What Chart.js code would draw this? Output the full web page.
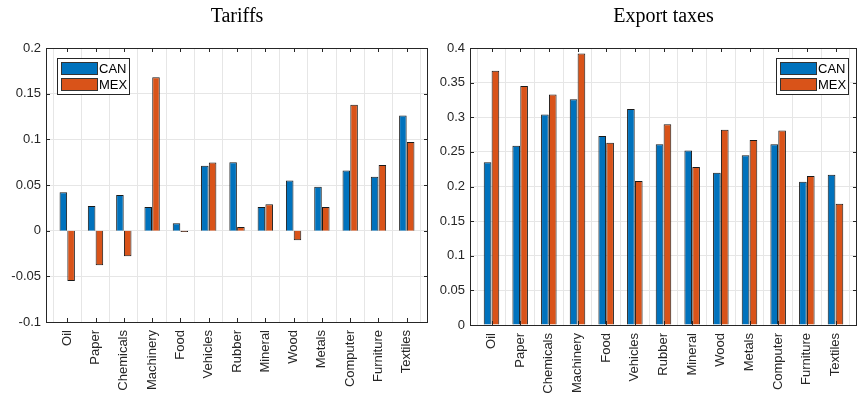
<!DOCTYPE html>
<html>
<head>
<meta charset="utf-8">
<script src="https://cdn.jsdelivr.net/npm/chart.js@4.4.0/dist/chart.umd.min.js"></script>
<style>
  body { margin: 0; background: #fff; }
  .wrap { position: absolute; top: 0; width: 429px; height: 398px; }
  #left { left: 0; }
  #right { left: 429px; }
</style>
</head>
<body>
<div class="wrap" id="left"><canvas id="tariffs" width="429" height="398"></canvas></div>
<div class="wrap" id="right"><canvas id="exports" width="429" height="398"></canvas></div>
<script>
const sectors = ['Oil', 'Paper', 'Chemicals', 'Machinery', 'Food', 'Vehicles', 'Rubber',
    'Mineral', 'Wood', 'Metals', 'Computer', 'Furniture', 'Textiles'];

const tariffsCAN = [0.042, 0.027, 0.039, 0.026, 0.008, 0.071, 0.075, 0.026, 0.055, 0.048, 0.066, 0.059, 0.126];
const tariffsMEX = [-0.055, -0.038, -0.028, 0.168, -0.0015, 0.0745, 0.004, 0.029, -0.0105, 0.026, 0.138, 0.072, 0.097];

const exportCAN = [0.235, 0.259, 0.304, 0.326, 0.273, 0.312, 0.261, 0.252, 0.220, 0.245, 0.261, 0.207, 0.217];
const exportMEX = [0.367, 0.345, 0.333, 0.392, 0.263, 0.208, 0.290, 0.228, 0.282, 0.267, 0.281, 0.215, 0.175];

const colors = { can: '#0072BD', mex: '#D95319', axis: '#262626', grid: '#e6e6e6' };
const tickFont = { family: '"Liberation Sans", Arial, sans-serif', size: 13 };

// box, inner ticks, title and legend drawn in matlab style
const matlabLook = {
    id: 'matlabLook',
    afterDraw(chart, args, opts) {
        const { ctx, chartArea: a } = chart;
        ctx.save();
        ctx.strokeStyle = colors.axis;
        ctx.lineWidth = 1;
        ctx.strokeRect(a.left + 0.5, a.top + 0.5, a.right - a.left - 1, a.bottom - a.top);

        // tick marks inside the box
        const ys = chart.scales.y, xs = chart.scales.x;
        ctx.beginPath();
        ys.ticks.forEach(t => {
            const y = Math.round(ys.getPixelForValue(t.value)) + 0.5;
            ctx.moveTo(a.left, y); ctx.lineTo(a.left + 4, y);
            ctx.moveTo(a.right, y); ctx.lineTo(a.right - 4, y);
        });
        xs.ticks.forEach(t => {
            const x = Math.round(xs.getPixelForValue(t.value)) + 0.5;
            ctx.moveTo(x, a.bottom); ctx.lineTo(x, a.bottom - 4);
            ctx.moveTo(x, a.top); ctx.lineTo(x, a.top + 4);
        });
        ctx.stroke();

        // title
        ctx.fillStyle = '#000';
        ctx.font = '20px "Liberation Serif", "DejaVu Serif", serif';
        ctx.textAlign = 'center';
        ctx.textBaseline = 'alphabetic';
        ctx.fillText(opts.title, (a.left + a.right) / 2, 22);

        // legend box
        const lx = opts.legendLeft ? a.left + 11 : a.right - 81;
        const ly = a.top + 10;
        const w = 72, h = 36;
        ctx.fillStyle = '#fff';
        ctx.fillRect(lx, ly, w, h);
        ctx.strokeStyle = colors.axis;
        ctx.strokeRect(lx + 0.5, ly + 0.5, w, h);
        const items = [['CAN', colors.can], ['MEX', colors.mex]];
        ctx.font = '13px "Liberation Sans", Arial, sans-serif';
        ctx.textAlign = 'left';
        ctx.textBaseline = 'middle';
        items.forEach((it, i) => {
            const y = ly + 4 + i * 16;
            ctx.fillStyle = it[1];
            ctx.fillRect(lx + 4, y, 36, 12);
            ctx.strokeStyle = '#333';
            ctx.strokeRect(lx + 4.5, y + 0.5, 36, 12);
            ctx.fillStyle = '#000';
            ctx.fillText(it[0], lx + 42, y + 7);
        });
        ctx.restore();
    }
};

function tickLabel(v) {
    return String(Math.round(v * 100) / 100);
}

// sectors sit at x = 1..13, axis runs 0.25..13.75 like matlab's bar limits
function toPoints(values) {
    return values.map((v, i) => ({ x: i + 1, y: v }));
}

function makeChart(canvasId, can, mex, yMin, yMax, yWidth, xHeight, title, legendLeft) {
    const ctx = document.getElementById(canvasId).getContext('2d');
    return new Chart(ctx, {
        type: 'bar',
        data: {
            datasets: [{
                label: 'CAN',
                data: toPoints(can),
                backgroundColor: colors.can,
                borderColor: '#1a1a1a',
                borderWidth: 1
            }, {
                label: 'MEX',
                data: toPoints(mex),
                backgroundColor: colors.mex,
                borderColor: '#1a1a1a',
                borderWidth: 1
            }]
        },
        options: {
            responsive: false,
            animation: false,
            categoryPercentage: 0.55,
            barPercentage: 0.97,
            layout: { padding: { top: 48, right: 1 } },
            plugins: {
                legend: { display: false },
                tooltip: { enabled: false },
                matlabLook: { title: title, legendLeft: legendLeft }
            },
            scales: {
                x: {
                    type: 'linear',
                    offset: false,
                    min: 0.25,
                    max: sectors.length + 0.75,
                    grid: { color: colors.grid, drawTicks: false },
                    border: { display: false },
                    ticks: {
                        color: colors.axis, font: tickFont, minRotation: 90, maxRotation: 90, padding: 8,
                        autoSkip: false,
                        callback: v => sectors[v - 1]
                    },
                    afterBuildTicks(scale) {
                        scale.ticks = sectors.map((s, i) => ({ value: i + 1 }));
                    },
                    afterFit(scale) {
                        scale.height = xHeight;
                        scale.paddingLeft = 0;
                        scale.paddingRight = 0;
                    }
                },
                y: {
                    min: yMin,
                    max: yMax,
                    grid: {
                        color: c => (c.tick && c.tick.value === 0 && yMin < 0) ? colors.axis : colors.grid,
                        drawTicks: false
                    },
                    border: { display: false },
                    ticks: { stepSize: 0.05, color: colors.axis, font: tickFont, padding: 5, callback: tickLabel },
                    afterFit(scale) { scale.width = yWidth; }
                }
            }
        },
        plugins: [matlabLook]
    });
}

makeChart('tariffs', tariffsCAN, tariffsMEX, -0.1, 0.2, 46, 76, 'Tariffs', true);
makeChart('exports', exportCAN, exportMEX, 0, 0.4, 41, 73, 'Export taxes', false);
</script>
</body>
</html>
